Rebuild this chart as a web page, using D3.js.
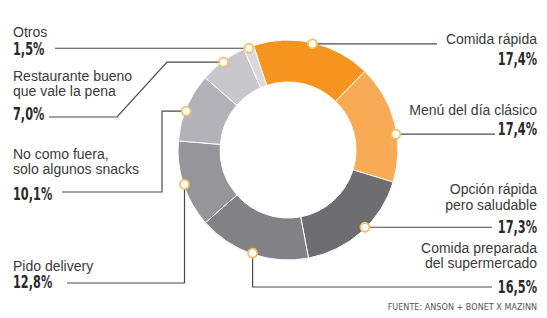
<!DOCTYPE html>
<html>
<head>
<meta charset="utf-8">
<script src="https://cdn.jsdelivr.net/npm/d3@7.9.0/dist/d3.min.js"></script>
<style>
  body { margin: 0; background: #fff; }
  .name { font-family: "Liberation Sans", Arial, sans-serif; font-size: 14px; fill: #3a3a3a; }
  .num { font-family: "DejaVu Sans Condensed", "Liberation Sans", sans-serif; font-weight: bold; font-size: 17px; fill: #2a2a2a; }
  .src { font-family: "DejaVu Sans Condensed", "Liberation Sans", sans-serif; font-size: 9px; fill: #555; }
</style>
</head>
<body>
<svg id="chart" width="547" height="318"></svg>
<script>
// data
const categories = [
  "Comida rápida",
  "Menú del día clásico",
  "Opción rápida pero saludable",
  "Comida preparada del supermercado",
  "Pido delivery",
  "No como fuera, solo algunos snacks",
  "Restaurante bueno que vale la pena",
  "Otros"
];
const values = [17.4, 17.4, 17.3, 16.5, 12.8, 10.1, 7.0, 1.5];
const valueLabels = ["17,4%", "17,4%", "17,3%", "16,5%", "12,8%", "10,1%", "7,0%", "1,5%"];
const nameLines = [
  ["Comida rápida"],
  ["Menú del día clásico"],
  ["Opción rápida", "pero saludable"],
  ["Comida preparada", "del supermercado"],
  ["Pido delivery"],
  ["No como fuera,", "solo algunos snacks"],
  ["Restaurante bueno", "que vale la pena"],
  ["Otros"]
];
const colors = ["#f5941f", "#f9aa55", "#6e6e71", "#828286", "#95959a", "#b2b2b8", "#c8c8cc", "#dadadc"];
const source = "FUENTE: ANSÓN + BONET X MAZINN";

// layout
const cx = 288, cy = 150, R = 110, r = 68;
const start = -18.3 * Math.PI / 180;

// label placement: x anchor, baselines, leader waypoints (dot first, computed)
const layout = [
  { anchor: "end", x: 537, names: [44], num: 65, shift: 0, route: (p) => [p, [437, p[1]]] },
  { anchor: "end", x: 537, names: [115], num: 135, shift: 6, route: (p) => [p, [495, p[1]]] },
  { anchor: "end", x: 537, names: [194, 210], num: 233, shift: -3, route: (p) => [p, [492, p[1]]] },
  { anchor: "end", x: 537, names: [253, 268], num: 293, shift: 0, route: (p) => [p, [p[0], 287], [492, 287]] },
  { anchor: "start", x: 13, names: [271], num: 288, shift: 0, route: (p) => [p, [p[0], 283], [67, 283]] },
  { anchor: "start", x: 13, names: [159, 174], num: 200, shift: -2, route: (p) => [p, [162, p[1]], [162, 192], [62, 192]] },
  { anchor: "start", x: 13, names: [81, 96], num: 120, shift: 0, route: (p) => [p, [167, p[1]], [117, 117], [49, 117]] },
  { anchor: "start", x: 13, names: [37], num: 55, shift: 0, route: (p) => [p, [55, p[1]]] }
];

const svg = d3.select("#chart");
const g = svg.append("g").attr("transform", `translate(${cx},${cy})`);

const pie = d3.pie().sort(null).value((d) => d)
  .startAngle(start).endAngle(start + 2 * Math.PI);
const arcs = pie(values);
const arc = d3.arc().innerRadius(r).outerRadius(R);

g.selectAll("path.slice")
  .data(arcs)
  .join("path")
  .attr("class", "slice")
  .attr("d", arc)
  .attr("fill", (d, i) => colors[i])
  .attr("stroke", "#fff")
  .attr("stroke-width", 1);

// dot positions on the outer edge
const dots = arcs.map((d, i) => {
  const a = (d.startAngle + d.endAngle) / 2 + layout[i].shift * Math.PI / 180;
  return [cx + (R - 1) * Math.sin(a), cy - (R - 1) * Math.cos(a)];
});

// leader lines
const line = d3.line();
svg.selectAll("path.leader")
  .data(dots)
  .join("path")
  .attr("class", "leader")
  .attr("d", (p, i) => line(layout[i].route(p)))
  .attr("fill", "none")
  .attr("stroke", "#4a4a4a")
  .attr("stroke-width", 1.2);

svg.selectAll("circle.dot")
  .data(dots)
  .join("circle")
  .attr("class", "dot")
  .attr("cx", (p) => p[0])
  .attr("cy", (p) => p[1])
  .attr("r", 4.5)
  .attr("fill", "#fff")
  .attr("stroke", "#f0c266")
  .attr("stroke-width", 1.8);

// labels
categories.forEach((c, i) => {
  const L = layout[i];
  nameLines[i].forEach((t, j) => {
    svg.append("text").attr("class", "name")
      .attr("x", L.x).attr("y", L.names[j])
      .attr("text-anchor", L.anchor).text(t);
  });
  // condensed look for the percentages
  svg.append("text").attr("class", "num")
    .attr("transform", `translate(${L.x},${L.num}) scale(0.74,1)`)
    .attr("text-anchor", L.anchor).text(valueLabels[i]);
});

svg.append("text").attr("class", "src")
  .attr("x", 537).attr("y", 310)
  .attr("text-anchor", "end").text(source);
</script>
</body>
</html>
